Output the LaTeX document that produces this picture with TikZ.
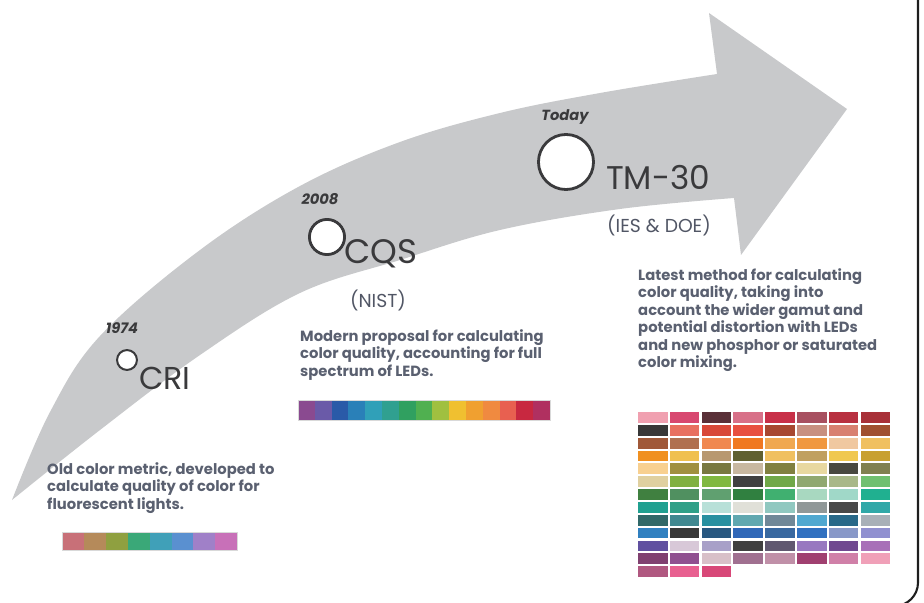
\documentclass[tikz,border=0pt]{standalone}
\usepackage{fontspec}
\setmainfont{Poppins}
\usetikzlibrary{positioning}
\definecolor{ArrowGray}{HTML}{C8C9CB}
\definecolor{TxtDesc}  {HTML}{5A6070}
\definecolor{TxtLabel} {HTML}{3A3A3C}
\definecolor{FrameDark}{HTML}{1E1E1E}
\tikzset{
  %% -- timeline arrow body --
  TL/arrow/.style={fill=ArrowGray, draw=none},
  %% -- milestone ring --
  TL/dot/.style={circle, draw=TxtLabel, fill=white, inner sep=0pt},
  %% -- year above a ring --
  TL/year/.style={font=\fontsize{12.5}{14}\selectfont\bfseries\itshape,
    text=TxtLabel, inner sep=0pt},
  %% -- metric name --
  TL/name/.style={text=TxtLabel, inner sep=0pt, anchor=base west},
  %% -- organisation --
  TL/org/.style={font=\fontsize{16}{18}\selectfont, text=TxtDesc!90!black, inner sep=0pt},
  %% -- description block --
  TL/desc/.style={font=\fontsize{12.6}{15}\selectfont\bfseries, text=TxtDesc,
    align=left, inner sep=0pt, anchor=north west},
  %% -- colour chip --
  TL/chip/.style={draw=gray!30, line width=0.3pt},
}

\begin{document}
\begin{tikzpicture}[x=0.3mm, y=-0.3mm]
\useasboundingbox (0,0) rectangle (924,603);

%% ── Arrow ──────────────────────────────────────────────────────────────────
\fill[TL/arrow]
  plot[smooth, tension=0.6] coordinates {(12,500) (50,412) (100,336) (200,250)
    (300,186) (400,142) (500,113) (600,93) (717,74)}
  -- (709,13) -- (847,109) -- (741,255) -- (734,198)
  -- plot[smooth, tension=0.6] coordinates {(734,198) (620,209) (500,230)
    (400,260) (300,293) (200,355) (100,430) (12,500)} -- cycle;

%% ── Frame edge ─────────────────────────────────────────────────────────────
\draw[FrameDark, line width=1.8pt, rounded corners=20pt]
  (918,-10) -- (918,606) -- (800,606);

%% ── Milestone 1: CRI ───────────────────────────────────────────────────────
\node[TL/dot, minimum size=17pt, line width=1.7pt] (dotCRI) at (127,360) {};
\node[TL/year] (yrCRI) at (122,328) {1974};
\node[TL/name, font=\fontsize{27}{29}\selectfont] (nmCRI) at (139,390) {CRI};
\node[TL/desc] (dsCRI) at (47,462)
  {Old color metric, developed to\\
   calculate quality of color for\\
   fluorescent lights.};

%% ── Milestone 2: CQS ───────────────────────────────────────────────────────
\node[TL/dot, minimum size=30pt, line width=2.4pt] (dotCQS) at (327,237) {};
\node[TL/year] (yrCQS) at (320,199) {2008};
\node[TL/name, font=\fontsize{29}{31}\selectfont] (nmCQS) at (344,264) {CQS};
\node[TL/org] (orCQS) at (378,300) {(NIST)};
\node[TL/desc] (dsCQS) at (300,329)
  {Modern proposal for calculating\\
   color quality, accounting for full\\
   spectrum of LEDs.};

%% ── Milestone 3: TM-30 ─────────────────────────────────────────────────────
\node[TL/dot, minimum size=47pt, line width=2.4pt] (dotTM) at (566,162) {};
\node[TL/year] (yrTM) at (565,117) {Today};
\node[TL/name, font=\fontsize{28}{30}\selectfont] (nmTM) at (606,190) {TM-30};
\node[TL/org] (orTM) at (659,225) {(IES \& DOE)};
\node[TL/desc] (dsTM) at (638,268)
  {Latest method for calculating\\
   color quality, taking into\\
   account the wider gamut and\\
   potential distortion with LEDs\\
   and new phosphor or saturated\\
   color mixing.};

%% ── Colour chips: CRI (8) ──────────────────────────────────────────────────
\foreach \c [count=\k from 0] in {C87078,B58A5A,8FA040,3AA878,40A0B8,5A90D0,A080C8,C870B8}{
  \definecolor{chip}{HTML}{\c}
  \fill[chip] ({62+\k*21.9},532) rectangle ++(21.9,18);
}
\draw[TL/chip] (62,532) rectangle (237,550);

%% ── Colour chips: CQS (15) ─────────────────────────────────────────────────
\foreach \c [count=\k from 0] in {8A4A90,6A5AA8,2A5AA8,2A80B8,30A0B8,30A090,30A060,
    50B050,A0C040,F0C030,F0A030,F08A40,E86050,C82840,B03060}{
  \definecolor{chip}{HTML}{\c}
  \fill[chip] ({298+\k*16.8},400) rectangle ++(16.8,20);
}
\draw[TL/chip] (298,400) rectangle (550,420);

%% ── Colour chips: TM-30 (99) ───────────────────────────────────────────────
\foreach \row [count=\r from 0] in {
    {F0A0B0,D84870,5A3038,D87088,C83048,A85060,B83040,A83038},
    {383838,E87060,D84838,E85040,A84830,C89080,D88070,A05030},
    {A05838,B07050,F08850,F07820,F0A850,F09840,F0C8A0,F0C060},
    {F09020,F0C050,B89870,606030,F0C060,C0A060,F0C850,C8A030},
    {F8D090,A09040,787840,C8B8A0,808040,E8D8A0,484840,808050},
    {E0D0A0,80B040,80B840,404040,70A848,90A870,A8B888,70C070},
    {408040,509060,60A070,308040,40B070,A8D8C0,A0D8C8,20B090},
    {20A090,30A088,B8E0D8,E0E0D8,90C8C0,909898,484848,30A8A8},
    {306868,408890,2890A0,60A8B0,708898,50A8D0,286888,A8B0B8},
    {3080C0,383838,285880,3068B8,3868A0,3070C0,8898C8,9090D0},
    {6050A0,D8C8D8,A8A0C8,404040,605870,9878C0,704890,A870B8},
    {804070,905090,D8C0C8,A07090,C090A8,A04070,D080A8,F0A0B8},
    {B05880,E86090,D84878}}{
  \foreach \c [count=\k from 0] in \row {
    \definecolor{chip}{HTML}{\c}
    \fill[chip] ({638+\k*31.8},{412+\r*12.85}) rectangle ++(29.5,10.8);
  }
}

\end{tikzpicture}
\end{document}
